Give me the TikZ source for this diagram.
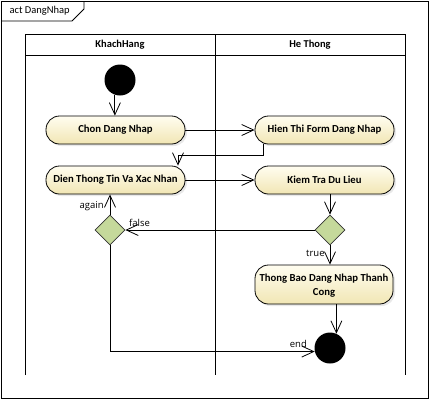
\documentclass[tikz,border=0pt]{standalone}
\usepackage{fontspec}
\setmainfont{Carlito}
\newfontfamily\lblfont{Open Sans}
\usetikzlibrary{arrows.meta,shapes.geometric,shadows}
\definecolor{boxtop}{HTML}{FFFDF0}
\definecolor{boxbot}{HTML}{F1E6B4}
\definecolor{dec}{HTML}{C5D99B}
\begin{document}
\begin{tikzpicture}[x=1pt,y=-1pt,
  act/.style={draw=black, line width=0.8pt, rectangle, rounded corners=13.5pt,
    top color=boxtop, bottom color=boxbot, minimum width=139pt, minimum height=28pt,
    inner sep=2pt, align=center, font=\acttext,
    drop shadow={opacity=0.18, shadow xshift=2pt, shadow yshift=-2pt}},
  acttxt/.style={inner sep=0pt, font=\acttext},
  decis/.style={draw=black!80, line width=0.7pt, diamond, fill=dec, minimum width=30pt,
    minimum height=30pt, inner sep=0pt},
  dot/.style={circle, fill=black, minimum size=31pt, inner sep=0pt},
  arr/.style={draw=black, line width=0.8pt, -{Straight Barb[length=12pt,width=11pt,line width=0.8pt]}},
  lbl/.style={font=\lblfont\fontsize{9.5}{11}\selectfont, inner sep=1pt},
  lane/.style={draw=black, line width=0.8pt},
  hdr/.style={font=\fontsize{10.5}{12}\selectfont\bfseries}
]
\def\acttext{\fontsize{10.7}{13}\selectfont\bfseries}
\useasboundingbox (0,0) rectangle (430,400);
% outer frame
\draw[line width=0.8pt] (1.5,1.5) rectangle (428,398);
\draw[line width=0.8pt] (1.5,21) -- (72,21) -- (84,9) -- (84,1.5);
\node[anchor=west, font=\fontsize{10.5}{12}\selectfont] (title) at (6,11) {act DangNhap};
% swimlanes
\draw[lane] (25,375) -- (25,34) -- (405,34) -- (405,375);
\draw[lane] (25,55) -- (405,55);
\draw[lane] (215,34) -- (215,375);
\node[hdr] (kh) at (120,45) {KhachHang};
\node[hdr] (ht) at (310,45) {He Thong};
% nodes
\node[dot] (init) at (120,80) {};
\node[act] (chon) at (115.5,130) {Chon Dang Nhap};
\node[act] (dien) at (115.5,180) {Dien Thong Tin Va Xac Nhan};
\node[act] (hien) at (324.5,130) {Hien Thi Form Dang Nhap};
\node[act] (kiem) at (324.5,180) {Kiem Tra Du Lieu};
\node[decis] (d1) at (110,230) {};
\node[decis] (d2) at (330,230) {};
\node[act, minimum width=138pt, minimum height=39pt] (tb) at (324,284.5) {};
\node[acttxt] (tb1) at (324,279) {Thong Bao Dang Nhap Thanh};
\node[acttxt] (tb2) at (324,292.5) {Cong};
\node[dot] (fin) at (330,348) {};
% edges
\draw[arr] (init.251) -- (init.251 |- chon.north);
\draw[arr] (chon) -- (hien);
\draw[arr] ([xshift=-61.5pt]hien.south) -- ++(0,-11pt) -| ([xshift=62.5pt]dien.north);
\draw[arr] (dien) -- (kiem);
\draw[arr] (d2.north |- kiem.south) -- (d2.north);
\draw[arr] (d2.west) -- node[lbl, pos=0.925, above=2pt] {false} (d1.east);
\draw[arr] (d1.north) -- node[lbl, pos=0.4, left=5pt] {again} (d1.north |- dien.south);
\draw[arr] (d2.south) -- node[lbl, pos=0.4, left=4pt] {true} (d2.south |- tb.north);
\draw[arr] (d1.south) |- node[lbl, pos=0.96, above=3pt] {end} (fin.193);
\draw[arr] (tb.south -| fin.66) -- (fin.66);
\end{tikzpicture}
\end{document}
